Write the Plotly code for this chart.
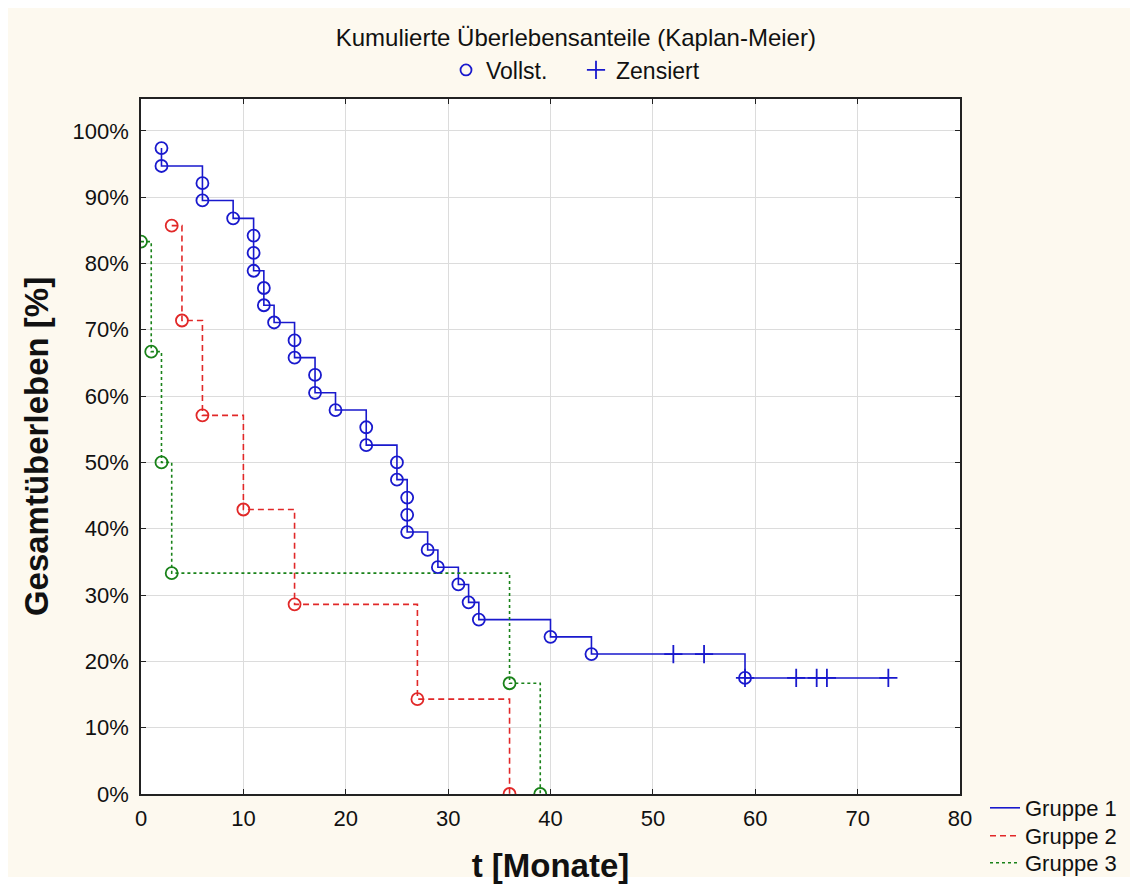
import plotly.graph_objects as go

# ---- data ----
t1 = [2, 2, 6, 6, 9, 11, 11, 11, 12, 12, 13, 15, 15, 17, 17, 19, 22, 22, 25, 25,
      26, 26, 26, 28, 29, 31, 32, 33, 40, 44, 59]
s1 = [97.4, 94.7, 92.1, 89.5, 86.8, 84.2, 81.6, 78.9, 76.3, 73.7, 71.1, 68.4, 65.8,
      63.2, 60.5, 57.9, 55.3, 52.6, 50.0, 47.4, 44.7, 42.1, 39.5, 36.8, 34.2, 31.6,
      28.9, 26.3, 23.7, 21.1, 17.5]
c1_t = [52, 55, 59, 64, 66, 67, 73]
c1_s = [21.1, 21.1, 17.5, 17.5, 17.5, 17.5, 17.5]

t2 = [3, 4, 6, 10, 15, 27, 36]
s2 = [85.7, 71.4, 57.1, 42.9, 28.6, 14.3, 0.0]

t3 = [0, 1, 2, 3, 36, 39]
s3 = [83.3, 66.7, 50.0, 33.3, 16.7, 0.0]

groups = ["Gruppe 1", "Gruppe 2", "Gruppe 3"]
x_ticks = [0, 10, 20, 30, 40, 50, 60, 70, 80]
y_ticks = [0, 10, 20, 30, 40, 50, 60, 70, 80, 90, 100]

BLUE = "rgb(25,25,205)"
RED = "rgb(225,40,40)"
GREEN = "rgb(25,130,25)"
FONT = "Liberation Sans, Arial, sans-serif"

W, H = 1138, 885
ML, MR, MT, MB = 141, 178, 99, 91
PW, PH = W - ML - MR, H - MT - MB


def step_path(ts, ss, cts=(), css=()):
    pts = sorted(list(zip(ts, ss)) + list(zip(cts, css)), key=lambda p: (p[0], -p[1]))
    return [p[0] for p in pts], [p[1] for p in pts]


fig = go.Figure()

series = [
    (groups[0], t1, s1, c1_t, c1_s, BLUE, "solid", "legend2"),
    (groups[1], t2, s2, [], [], RED, "6px,4px", "legend3"),
    (groups[2], t3, s3, [], [], GREEN, "dot", "legend4"),
]

for name, ts, ss, cts, css, col, dash, lg in series:
    px, py = step_path(ts, ss, cts, css)
    fig.add_trace(go.Scatter(
        x=px, y=py, mode="lines", name=name, legend=lg,
        line=dict(color=col, width=1.6, dash=dash, shape="hv"),
        hoverinfo="skip"))

for name, ts, ss, cts, css, col, dash, lg in series:
    fig.add_trace(go.Scatter(
        x=ts, y=ss, mode="markers", showlegend=False,
        marker=dict(symbol="circle-open", size=12, color=col, line=dict(width=1.8, color=col)),
        hoverinfo="skip"))
    if cts:
        fig.add_trace(go.Scatter(
            x=cts, y=css, mode="markers", showlegend=False,
            marker=dict(symbol="cross-thin-open", size=13, color=col, line=dict(width=1.8, color=col)),
            hoverinfo="skip"))

# top legend entries
fig.add_trace(go.Scatter(
    x=[None], y=[None], mode="markers", name="Vollst.", legend="legend",
    marker=dict(symbol="circle-open", size=11, color=BLUE, line=dict(width=1.8, color=BLUE))))
fig.add_trace(go.Scatter(
    x=[None], y=[None], mode="markers", name="Zensiert", legend="legend",
    marker=dict(symbol="cross-thin-open", size=13, color=BLUE, line=dict(width=1.8, color=BLUE))))

axis_common = dict(
    showgrid=True, gridcolor="#dcdcdc", gridwidth=1,
    showline=True, linecolor="#222222", linewidth=1.5, mirror="allticks",
    ticks="inside", ticklen=5, tickwidth=1.2, tickcolor="#222222",
    zeroline=False, tickfont=dict(family=FONT, size=22, color="#111111"),
)

gleg = dict(orientation="v", xref="container", yref="container",
            x=985 / W, xanchor="left", yanchor="middle",
            bgcolor="rgba(0,0,0,0)", font=dict(family=FONT, size=22, color="#111111"),
            itemclick=False)

fig.update_layout(
    width=W, height=H,
    margin=dict(l=ML, r=MR, t=MT, b=MB, autoexpand=False),
    paper_bgcolor="#fdf9ef", plot_bgcolor="white",
    font=dict(family=FONT, color="#111111"),
    title=dict(text="Kumulierte Überlebensanteile (Kaplan-Meier)",
               x=0.506, xanchor="center", xref="container",
               y=1 - 38 / H, yanchor="middle", yref="container",
               font=dict(family=FONT, size=24, color="#111111")),
    xaxis=dict(range=[0, 80], tickvals=x_ticks, ticktext=[str(v) for v in x_ticks],
               title=dict(text="<b>t [Monate]</b>", font=dict(family=FONT, size=33, color="#111111"),
                          standoff=24),
               ticklabelstandoff=4,
               **axis_common),
    yaxis=dict(range=[0, 104.8], tickvals=y_ticks, ticktext=[f"{v}%" for v in y_ticks],
               title=dict(text="<b>Gesamtüberleben [%]</b>", font=dict(family=FONT, size=33, color="#111111"),
                          standoff=14),
               ticklabelstandoff=6,
               **axis_common),
    legend=dict(orientation="h", xref="container", yref="container",
                x=446 / W, xanchor="left", y=1 - 70 / H, yanchor="middle",
                bgcolor="rgba(0,0,0,0)", font=dict(family=FONT, size=23, color="#111111"),
                entrywidth=85, entrywidthmode="pixels", itemclick=False),
    legend2=dict(y=1 - 808 / H, **gleg),
    legend3=dict(y=1 - 836 / H, **gleg),
    legend4=dict(y=1 - 863 / H, **gleg),
    shapes=[dict(type="rect", xref="paper", yref="paper", layer="above",
                 x0=-ML / PW, x1=(W - ML) / PW, y0=-MB / PH, y1=(H - MB) / PH,
                 line=dict(color="white", width=16), fillcolor="rgba(0,0,0,0)")],
)

fig.write_html("out.html")
